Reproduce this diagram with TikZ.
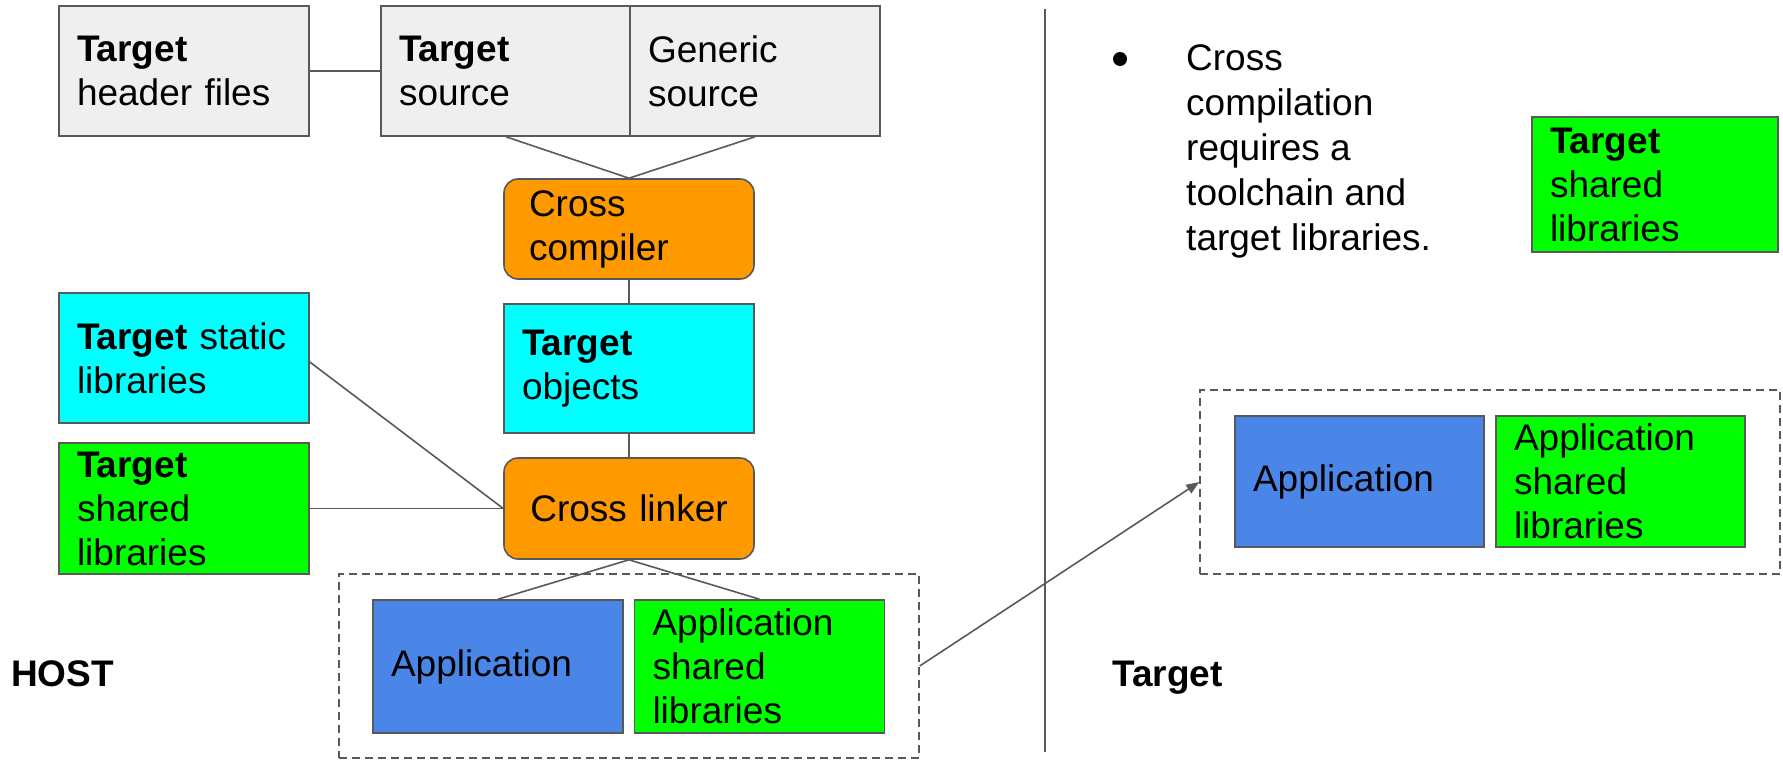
\documentclass[tikz,border=0pt]{standalone}
\usepackage{fontspec}
\setmainfont{Liberation Sans}
\usetikzlibrary{arrows.meta}
\definecolor{lgray}{HTML}{EFEFEF}
\definecolor{edgec}{HTML}{595959}
\definecolor{cyanf}{HTML}{00FFFF}
\definecolor{greenf}{HTML}{00FF00}
\definecolor{orangef}{HTML}{FF9900}
\definecolor{bluef}{HTML}{4A86E8}
\begin{document}
\begin{tikzpicture}[x=1pt,y=-1pt,
  bigfont/.style={font=\fontsize{37}{44}\selectfont},
  box/.style={bigfont, draw=edgec, line width=1.6pt, rectangle, minimum height=130pt,
    inner xsep=18pt, inner ysep=0pt, text width=214pt, align=left},
  rbox/.style={box, rounded corners=14pt, fill=orangef, minimum height=100pt},
  dbox/.style={draw=edgec, line width=1.4pt, dash pattern=on 8pt off 5pt, rectangle,
    minimum width=580pt, minimum height=184pt, inner sep=0pt},
  conn/.style={draw=edgec, line width=1.6pt},
  side/.style={font=\fontsize{37}{44}\selectfont\bfseries, inner sep=0pt, anchor=base west}
]
\useasboundingbox (0,0) rectangle (1783,763);

% host dashed group
\node[dbox] (hostgrp) at (629,666) {};
% target dashed group
\node[dbox] (tgtgrp) at (1490,482) {};

% top row
\node[box, fill=lgray] (hdr) at (184,71) {\textbf{Target}\\header files};
\node[box, fill=lgray] (src) at (506,71) {\textbf{Target}\\source};
\node[box, fill=lgray] (gen) at (755,71) {Generic\\source};

% compiler and objects
\node[rbox, inner xsep=25pt, text width=200pt] (comp) at (629,229) {Cross\\compiler};
\node[box, fill=cyanf, minimum height=129pt] (obj) at (629,368.5) {\textbf{Target}\\objects};

% libraries
\node[box, fill=cyanf] (stat) at (184,358) {\textbf{Target}~static\\libraries};
\node[box, fill=greenf, minimum height=131pt] (shl) at (184,508.5) {\textbf{Target}\\shared\\libraries};

% linker
\node[rbox, minimum height=101pt, align=center] (link) at (629,508.5) {Cross linker};

% host application
\node[box, fill=bluef, minimum height=133pt] (app) at (498,666.5) {Application};
\node[box, fill=greenf, minimum height=133pt] (appsh) at (759.5,666.5) {Application\\shared\\libraries};

% target side
\node[box, fill=greenf, minimum height=135pt, text width=210pt] (tsh) at (1655,184.5) {\textbf{Target}\\shared\\libraries};
\node[box, fill=bluef, minimum height=131pt, text width=213pt] (tapp) at (1359.5,481.5) {Application};
\node[box, fill=greenf, minimum height=131pt, text width=213pt] (tappsh) at (1620.5,481.5) {Application\\shared\\libraries};

% bullet text
\node[circle, fill=black, inner sep=0pt, minimum size=14pt] (bullet) at (1120,59) {};
\node[font=\fontsize{37}{45}\selectfont, inner sep=0pt, anchor=north west, align=left] (note) at (1186,44)
  {Cross\\compilation\\requires a\\toolchain and\\target libraries.};

% side labels
\node[side] (hostlbl) at (11,686) {HOST};
\node[side] (tgtlbl) at (1112,686) {Target};

% divider
\coordinate (vtop) at (1045,9);
\coordinate (vbot) at (1045,752);
\draw[conn] (vtop) -- (vbot);

% connectors
\draw[conn] (hdr.east) -- (src.west);
\draw[conn] (src.south) -- (comp.north);
\draw[conn] (gen.south) -- (comp.north);
\draw[conn] (comp.south) -- (obj.north);
\draw[conn] (obj.south) -- (link.north);
\draw[conn] ([yshift=-4pt]stat.east) -- (link.west);
\draw[conn] (shl.east) -- (link.west);
\draw[conn] (link.south) -- (app.north);
\draw[conn] (link.south) -- (appsh.north);
\draw[conn, -{Triangle[length=13pt,width=10pt]}] (hostgrp.east) -- (tgtgrp.west);
\end{tikzpicture}
\end{document}
